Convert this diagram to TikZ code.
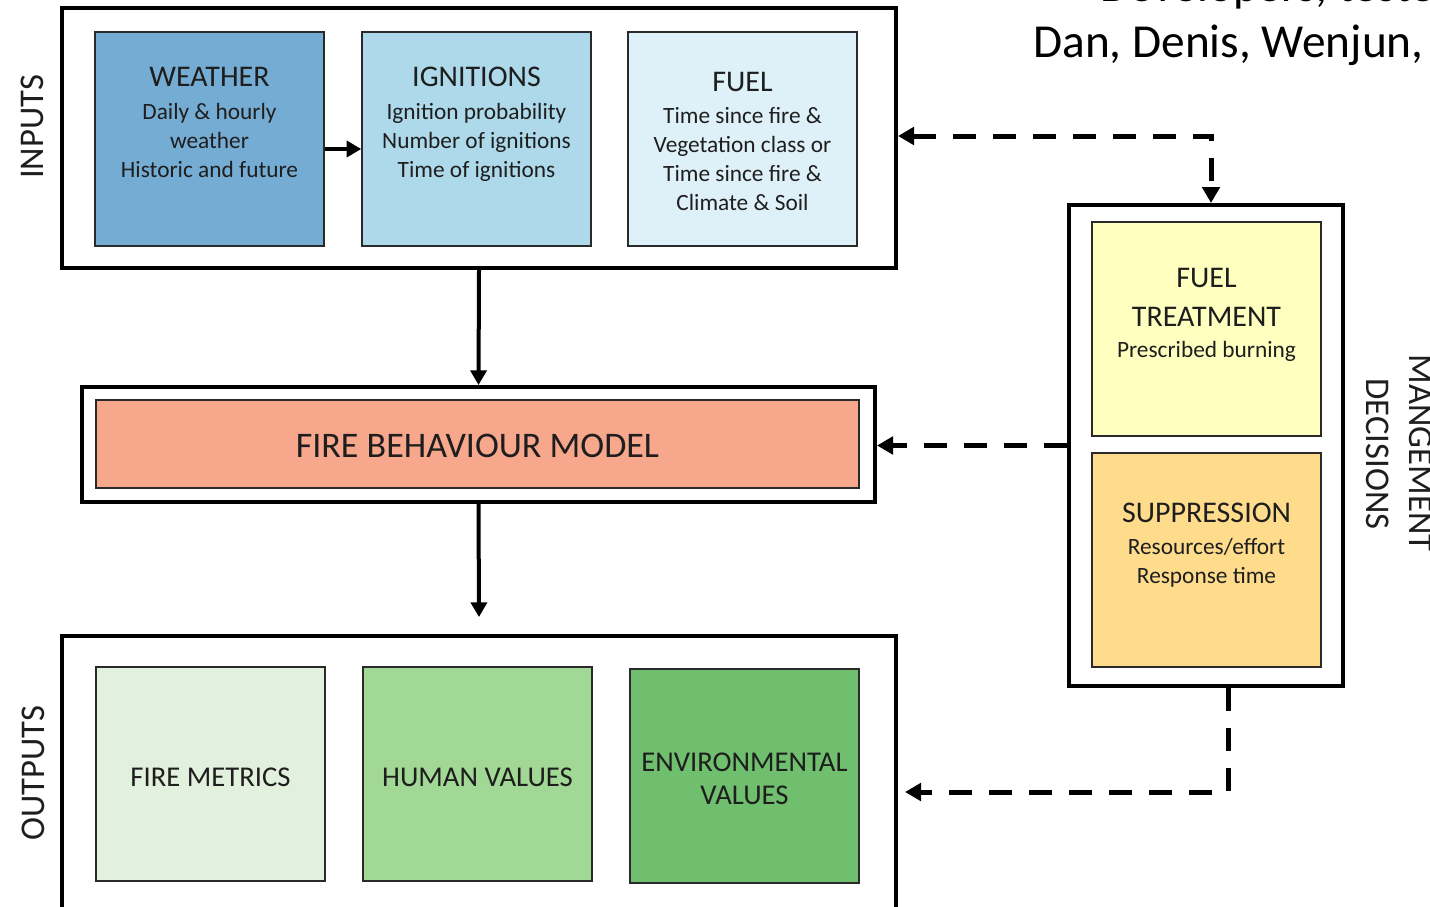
\documentclass[tikz,border=0pt]{standalone}
\usepackage{fontspec}
\setmainfont{Carlito}
\usetikzlibrary{arrows.meta,fit,calc}

\definecolor{txt}{HTML}{1E1E1E}
\definecolor{edge}{HTML}{2A2A2A}
\definecolor{weatherc}{HTML}{75ACD3}
\definecolor{ignitc}{HTML}{ADD9EA}
\definecolor{fuelc}{HTML}{DFF1F8}
\definecolor{modelc}{HTML}{F7A78C}
\definecolor{treatc}{HTML}{FFFFC0}
\definecolor{suppc}{HTML}{FEDC8C}
\definecolor{metricc}{HTML}{E2F1DE}
\definecolor{humanc}{HTML}{A2D895}
\definecolor{envc}{HTML}{70BF6E}

\tikzset{
  frame/.style={draw=black, line width=3pt, inner sep=0pt, fill=white},
  cell/.style={draw=edge, line width=1.1pt, inner sep=0pt},
  title/.style={text=txt, inner sep=0pt, anchor=base, font=\fontsize{22.5}{27}\selectfont},
  sub/.style={text=txt, inner sep=0pt, anchor=base, font=\fontsize{17.5}{21}\selectfont},
  side/.style={text=txt, inner sep=0pt, anchor=base, font=\fontsize{26}{31}\selectfont},
  flow/.style={draw=black, line width=3pt, -{Triangle[length=11pt,width=12pt]}},
  feedback/.style={draw=black, line width=3.75pt, dash pattern=on 17pt off 13pt,
    -{Triangle[length=12pt,width=13pt]}},
}

\begin{document}
\begin{tikzpicture}[x=0.75pt, y=-0.75pt]
\useasboundingbox (0,0) rectangle (1430,906);

% ---------- inputs ----------
\node[frame, fit={(62,8) (896,268)}] (inputs) {};
\node[cell, fill=weatherc, fit={(95,32) (324,246)}] (weather) {};
\node[cell, fill=ignitc, fit={(362,32) (591,246)}] (ignit) {};
\node[cell, fill=fuelc, fit={(628,32) (857,246)}] (fuel) {};

\node[title] (weatherT) at (209.5,87) {WEATHER};
\node[sub] (weatherA) at (209.5,119) {Daily \& hourly};
\node[sub] (weatherB) at (209.5,148) {weather};
\node[sub] (weatherC) at (209.5,177) {Historic and future};

\node[title] (ignitT) at (476.5,87) {IGNITIONS};
\node[sub] (ignitA) at (476.5,119) {Ignition probability};
\node[sub] (ignitB) at (476.5,148) {Number of ignitions};
\node[sub] (ignitC) at (476.5,177) {Time of ignitions};

\node[title] (fuelT) at (742.5,92) {FUEL};
\node[sub] (fuelA) at (742.5,123) {Time since fire \&};
\node[sub] (fuelB) at (742.5,152) {Vegetation class or};
\node[sub] (fuelC) at (742.5,181) {Time since fire \&};
\node[sub] (fuelD) at (742.5,210) {Climate \& Soil};

\node[side, rotate=90] (inputsL) at (43,127) {INPUTS};

% ---------- model ----------
\node[frame, fit={(82,387) (875,502)}] (modelbox) {};
\node[cell, fill=modelc, fit={(96,400) (859,488)}] (model) {};
\node[text=txt, inner sep=0pt, anchor=base, font=\fontsize{27}{32}\selectfont] (modelT) at (477.5,457) {FIRE BEHAVIOUR MODEL};

% ---------- outputs ----------
\node[frame, fit={(62,636) (896,915)}] (outputs) {};
\node[cell, fill=metricc, fit={(96,667) (325,881)}] (metrics) {};
\node[cell, fill=humanc, fit={(363,667) (592,881)}] (human) {};
\node[cell, fill=envc, fit={(630,669) (859,883)}] (env) {};

\node[title, font=\fontsize{21.5}{26}\selectfont] (metricsT) at (210.5,786) {FIRE METRICS};
\node[title, font=\fontsize{21.5}{26}\selectfont] (humanT) at (477.5,786) {HUMAN VALUES};
\node[title, font=\fontsize{21.5}{26}\selectfont] (envT) at (744.5,771) {ENVIRONMENTAL};
\node[title, font=\fontsize{21.5}{26}\selectfont] (envU) at (744.5,804) {VALUES};

\node[side, rotate=90] (outputsL) at (44,773) {OUTPUTS};

% ---------- management ----------
\node[frame, fit={(1069,205) (1343,686)}] (mgmt) {};
\node[cell, fill=treatc, fit={(1092,222) (1321,436)}] (treat) {};
\node[cell, fill=suppc, fit={(1092,453) (1321,667)}] (supp) {};

\node[title] (treatT) at (1206.5,287) {FUEL};
\node[title] (treatU) at (1206.5,326) {TREATMENT};
\node[sub] (treatA) at (1206.5,357) {Prescribed burning};

\node[title] (suppT) at (1206.5,522) {SUPPRESSION};
\node[sub] (suppA) at (1206.5,554) {Resources/effort};
\node[sub] (suppB) at (1206.5,583) {Response time};

\node[side, rotate=-90] (mgmtL) at (1409,453) {MANGEMENT};
\node[side, rotate=-90] (mgmtM) at (1366,454) {DECISIONS};

% ---------- heading ----------
\node[text=black, inner sep=0pt, anchor=base west, font=\fontsize{35.5}{42}\selectfont] (headA) at (1100,2) {Developers, testers};
\node[text=black, inner sep=0pt, anchor=base west, font=\fontsize{35.5}{42}\selectfont] (headB) at (1033,58) {Dan, Denis, Wenjun,};

% ---------- connectors ----------
\coordinate (outtip) at (479,617);
\coordinate (envtip) at (905,792);

\draw[flow] ([yshift=-7.5pt]weather.east) -- ([yshift=-7.5pt]ignit.west);
\draw[flow] (inputs.south) -- (modelbox.north);
\draw[flow] (modelbox.south) -- (outtip);

\draw[feedback, {Triangle[length=12pt,width=13pt]}-{Triangle[length=12pt,width=13pt]}]
  ([yshift=1.5pt]inputs.east) -| ([xshift=3.75pt]mgmt.north);
\draw[feedback] (mgmt.west) -- (mgmt.west -| modelbox.east);
\draw[feedback] ([xshift=16.5pt]mgmt.south) |- (envtip);
\end{tikzpicture}
\end{document}
